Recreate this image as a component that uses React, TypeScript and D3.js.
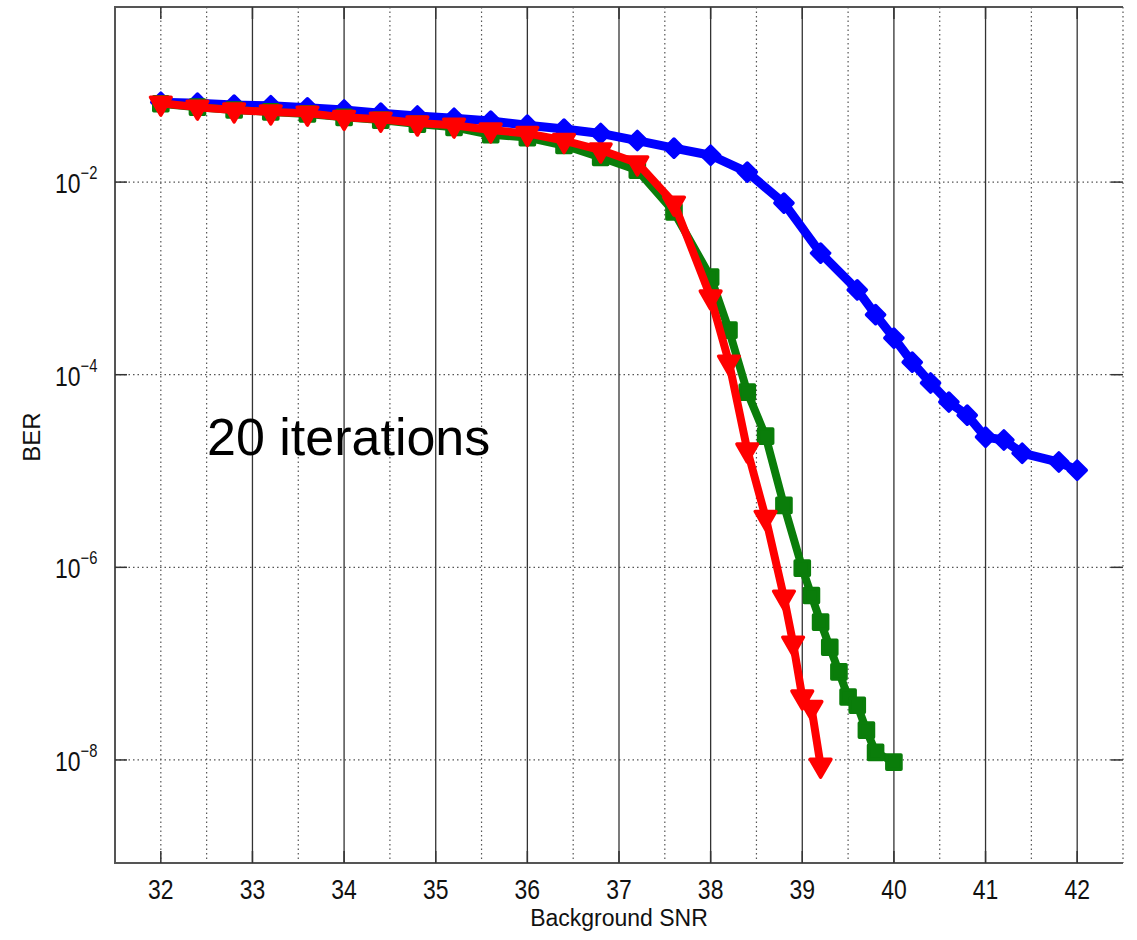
import React, { useEffect, useRef } from "react";
import * as d3 from "d3";

// Background SNR values and BER readings per curve
const blueSnr = [32, 32.4, 32.8, 33.2, 33.6, 34, 34.4, 34.8, 35.2, 35.6, 36, 36.4, 36.8, 37.2, 37.6, 38, 38.4, 38.8, 39.2, 39.6, 39.8, 40, 40.2, 40.4, 40.6, 40.8, 41, 41.2, 41.4, 41.8, 42];
const blueBer = [6.75e-2, 6.6e-2, 6.3e-2, 6.2e-2, 5.9e-2, 5.6e-2, 5.2e-2, 4.85e-2, 4.6e-2, 4.3e-2, 3.9e-2, 3.55e-2, 3.2e-2, 2.7e-2, 2.25e-2, 1.9e-2, 1.27e-2, 6.05e-3, 1.83e-3, 7.6e-4, 4.2e-4, 2.4e-4, 1.35e-4, 8.2e-5, 5.2e-5, 3.8e-5, 2.25e-5, 2.1e-5, 1.53e-5, 1.24e-5, 1.02e-5];

const greenSnr = [32, 32.4, 32.8, 33.2, 33.6, 34, 34.4, 34.8, 35.2, 35.6, 36, 36.4, 36.8, 37.2, 37.6, 38, 38.2, 38.4, 38.6, 38.8, 39, 39.1, 39.2, 39.3, 39.4, 39.5, 39.6, 39.7, 39.8, 40];
const greenBer = [6.5e-2, 6.0e-2, 5.6e-2, 5.35e-2, 5.1e-2, 4.7e-2, 4.4e-2, 4.0e-2, 3.7e-2, 3.1e-2, 2.9e-2, 2.4e-2, 1.8e-2, 1.33e-2, 4.9e-3, 1.03e-3, 2.9e-4, 6.6e-5, 2.3e-5, 4.4e-6, 9.8e-7, 5.1e-7, 2.7e-7, 1.48e-7, 8.2e-8, 4.5e-8, 3.7e-8, 2.04e-8, 1.2e-8, 9.5e-9];

const redSnr = [32, 32.4, 32.8, 33.2, 33.6, 34, 34.4, 34.8, 35.2, 35.6, 36, 36.4, 36.8, 37.2, 37.6, 38, 38.2, 38.4, 38.6, 38.8, 38.9, 39, 39.1, 39.2];
const redBer = [6.6e-2, 6.0e-2, 5.6e-2, 5.35e-2, 5.2e-2, 4.7e-2, 4.5e-2, 4.1e-2, 3.9e-2, 3.47e-2, 3.2e-2, 2.7e-2, 2.15e-2, 1.58e-2, 6.05e-3, 6.4e-4, 1.35e-4, 1.65e-5, 3.3e-6, 4.9e-7, 1.63e-7, 4.5e-8, 3.5e-8, 8.8e-9];

const xTicks = [32, 33, 34, 35, 36, 37, 38, 39, 40, 41, 42];
const xHalfGrid = [32, 32.5, 33.5, 34.5, 35.5, 36.5, 37.5, 38.5, 39.5, 40.5, 41.5, 42.5];
const xSolidGrid = [33, 34, 35, 36, 37, 38, 39, 40, 41, 42];
const yTicks = [1e-2, 1e-4, 1e-6, 1e-8];
const yTickExp = ["−2", "−4", "−6", "−8"];

const W = 1137;
const H = 940;

export default function App() {
  const ref = useRef<SVGSVGElement>(null);

  useEffect(() => {
    const svg = d3.select(ref.current);
    svg.selectAll("*").remove();

    const left = 115, right = 1123, top = 7, bottom = 863;
    const x = d3.scaleLinear().domain([31.5, 42.5]).range([left, right]);
    const y = d3.scaleLog().domain([Math.pow(10, -9.07), Math.pow(10, -0.182)]).range([bottom, top]);

    svg.append("rect").attr("width", W).attr("height", H).attr("fill", "#fff");

    // dotted grid
    const dots = "1.5,3";
    svg.append("g").selectAll("line").data(xHalfGrid).enter().append("line")
      .attr("x1", d => x(d)).attr("x2", d => x(d))
      .attr("y1", top).attr("y2", bottom)
      .attr("stroke", "#555").attr("stroke-width", 1.2).attr("stroke-dasharray", dots);
    svg.append("g").selectAll("line").data(yTicks).enter().append("line")
      .attr("x1", left).attr("x2", right)
      .attr("y1", d => y(d)).attr("y2", d => y(d))
      .attr("stroke", "#555").attr("stroke-width", 1.2).attr("stroke-dasharray", dots);

    // solid vertical lines
    svg.append("g").selectAll("line").data(xSolidGrid).enter().append("line")
      .attr("x1", d => x(d)).attr("x2", d => x(d))
      .attr("y1", top).attr("y2", bottom)
      .attr("stroke", "#333").attr("stroke-width", 1.3);

    // box (top, left, bottom)
    svg.append("path")
      .attr("d", `M${right},${top}H${left}V${bottom}H${right}`)
      .attr("fill", "none").attr("stroke", "#555").attr("stroke-width", 2);

    // ticks
    const tk = svg.append("g").attr("stroke", "#333").attr("stroke-width", 1.5);
    xTicks.forEach(v => {
      tk.append("line").attr("x1", x(v)).attr("x2", x(v)).attr("y1", bottom).attr("y2", bottom - 12);
      tk.append("line").attr("x1", x(v)).attr("x2", x(v)).attr("y1", top).attr("y2", top + 12);
    });
    yTicks.forEach(v => {
      tk.append("line").attr("x1", left).attr("x2", left + 12).attr("y1", y(v)).attr("y2", y(v));
      tk.append("line").attr("x1", right).attr("x2", right - 12).attr("y1", y(v)).attr("y2", y(v));
    });

    const font = "'Liberation Sans', Arial, Helvetica, sans-serif";

    // x tick labels
    svg.append("g").selectAll("text").data(xTicks).enter().append("text")
      .attr("transform", d => `translate(${x(d)},899) scale(0.82,1)`)
      .attr("text-anchor", "middle")
      .attr("font-family", font).attr("font-size", 28).attr("fill", "#111")
      .text(d => d);

    // y tick labels
    yTicks.forEach((v, i) => {
      const t = svg.append("text")
        .attr("transform", `translate(55,${y(v) + 11}) scale(0.82,1)`)
        .attr("font-family", font).attr("fill", "#111");
      t.append("tspan").attr("font-size", 28).text("10");
      t.append("tspan").attr("font-size", 18).attr("dy", -14).text(yTickExp[i]);
    });

    // axis titles
    svg.append("text")
      .attr("x", (left + right) / 2).attr("y", 926)
      .attr("text-anchor", "middle")
      .attr("font-family", font).attr("font-size", 23).attr("fill", "#111")
      .text("Background SNR");
    svg.append("text")
      .attr("transform", "translate(40,437) rotate(-90)")
      .attr("text-anchor", "middle")
      .attr("font-family", font).attr("font-size", 24).attr("fill", "#111")
      .text("BER");

    // series
    const series = [
      { xs: blueSnr, ys: blueBer, color: "#0000ff", sym: d3.symbolDiamond2, size: 210, rot: 0, lw: 9 },
      { xs: greenSnr, ys: greenBer, color: "#0a7d0a", sym: d3.symbolSquare, size: 200, rot: 0, lw: 8 },
      { xs: redSnr, ys: redBer, color: "#ff0000", sym: d3.symbolTriangle, size: 185, rot: 180, lw: 8 },
    ];
    const line = d3.line<[number, number]>().x(d => x(d[0])).y(d => y(d[1]));
    series.forEach(s => {
      const pts = s.xs.map((v, i) => [v, s.ys[i]] as [number, number]);
      svg.append("path")
        .attr("d", line(pts))
        .attr("fill", "none").attr("stroke", s.color)
        .attr("stroke-width", s.lw).attr("stroke-linejoin", "round");
      const sym = d3.symbol().type(s.sym).size(s.size);
      svg.append("g").selectAll("path").data(pts).enter().append("path")
        .attr("d", sym())
        .attr("transform", d => `translate(${x(d[0])},${y(d[1])}) rotate(${s.rot})`)
        .attr("fill", s.color).attr("stroke", s.color).attr("stroke-width", 3.5)
        .attr("stroke-linejoin", "round");
    });

    // annotation
    svg.append("text")
      .attr("x", 207).attr("y", 455)
      .attr("font-family", font).attr("font-size", 52).attr("fill", "#000")
      .text("20 iterations");
  }, []);

  return (
    <svg ref={ref} width={W} height={H}
      style={{ position: "absolute", left: 0, top: 0, display: "block" }} />
  );
}
